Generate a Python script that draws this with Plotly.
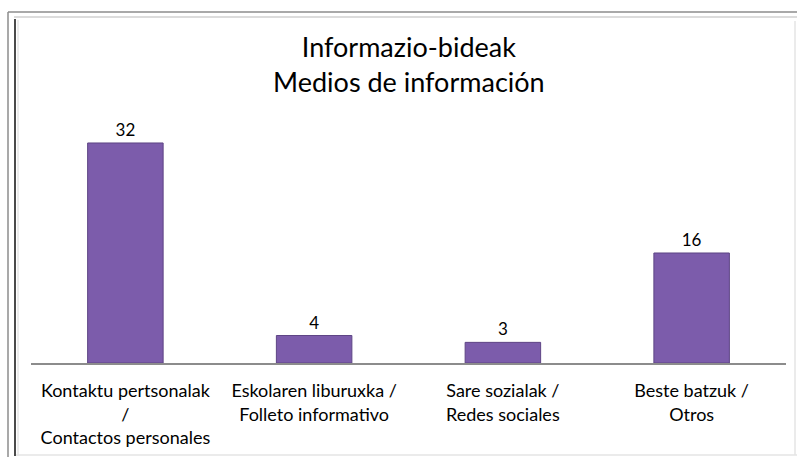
import plotly.graph_objects as go

# Survey data: how respondents heard about the school
categories = [
    "Kontaktu pertsonalak<br>/<br>Contactos personales",
    "Eskolaren liburuxka /<br>Folleto informativo",
    "Sare sozialak /<br>Redes sociales",
    "Beste batzuk /<br>Otros",
]
counts = [32, 4, 3, 16]

W, H = 797, 459
ML, MR, MT, MB = 31, 11, 100, 96
FONT = "Lato, 'Open Sans', sans-serif"

fig = go.Figure(
    go.Bar(
        x=categories,
        y=counts,
        text=[str(v) for v in counts],
        textposition="outside",
        textfont=dict(size=17, color="#000000", family=FONT),
        cliponaxis=False,
        marker=dict(
            color="#7c5cab",
            line=dict(color="#5e4585", width=1),
        ),
        width=0.4,
    )
)

# Frame around the chart, expressed in paper units from pixel positions
pw, ph = W - ML - MR, H - MT - MB
def px(x):
    return (x - ML) / pw
def py(y):
    return (H - MB - y) / ph

def seg(x0, y0, x1, y1, color, width):
    fig.add_shape(type="line", xref="paper", yref="paper",
                  x0=px(x0), x1=px(x1), y0=py(y0), y1=py(y1),
                  line=dict(color=color, width=width))

# outer border (top and left)
seg(8, 12, 797, 12, "#8c8c8c", 1.5)
seg(8, 12, 8, 457, "#8c8c8c", 1.5)
# inner light band
seg(14, 17, 797, 17, "#dcdcdc", 2)
seg(18, 20, 18, 456, "#d8d8d8", 1)
seg(795, 21, 795, 455, "#e4e4e4", 1.5)
seg(15, 455, 797, 455, "#e4e4e4", 1.5)
# inner dark left edge
seg(15, 19, 15, 456, "#4a4a4a", 2)

fig.update_layout(
    width=W, height=H,
    margin=dict(l=ML, r=MR, t=MT, b=MB),
    paper_bgcolor="white", plot_bgcolor="white",
    showlegend=False,
    title=dict(
        text="Informazio-bideak<br>Medios de información",
        x=0.513, xanchor="center", y=0.876, yanchor="top",
        font=dict(size=27, color="#000000", family=FONT),
    ),
    font=dict(family=FONT, color="#000000"),
    xaxis=dict(
        showline=True, linecolor="#8c8c8c", linewidth=1.5,
        ticks="", tickfont=dict(size=18, family=FONT, color="#000000"),
        ticklabelstandoff=11,
        showgrid=False,
    ),
    yaxis=dict(range=[0, 38.25], visible=False, showgrid=False),
)

fig.write_html("out.html")
